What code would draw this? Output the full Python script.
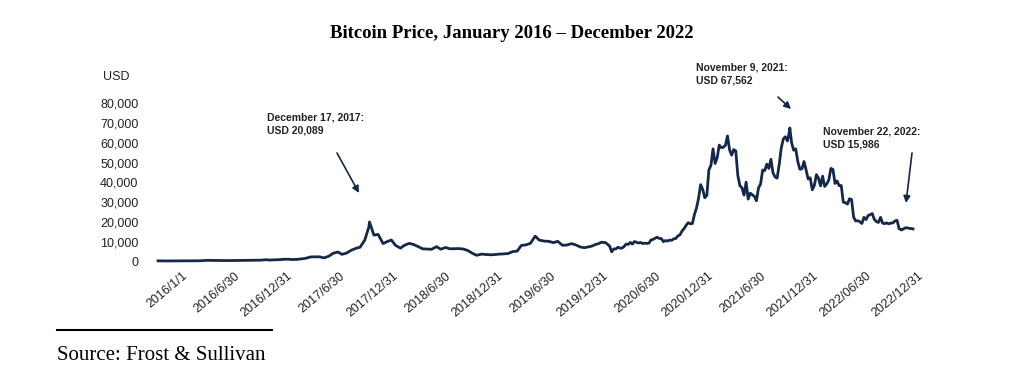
"""
Bitcoin price line chart, Jan 2016 - Dec 2022
"""
import numpy as np, matplotlib.pyplot as plt, pandas as pd

# 2016-2019: semi-monthly closes (1st and 15th of each month), USD
price_2016 = [430, 390, 375, 400, 435, 415, 417, 430, 450, 455, 535, 690,
              675, 665, 605, 570, 575, 607, 615, 638, 730, 712, 750, 780]
price_2017 = [1000, 820, 990, 1010, 1220, 1250, 1090, 1180, 1420, 1730, 2410, 2440,
              2480, 1930, 2730, 4200, 4900, 3700, 4400, 5700, 6750, 7300, 10900, 17600]
price_2018 = [13400, 13800, 9170, 10170, 10950, 8260, 6850, 8360, 9250, 8700, 7540, 6500,
              6390, 6270, 7600, 6300, 7190, 6520, 6600, 6630, 6370, 5600, 4200, 3240]
price_2019 = [3840, 3630, 3490, 3620, 3820, 3930, 4150, 5070, 5350, 8200, 8550, 9300,
              12900, 10880, 10400, 10300, 9630, 10300, 8320, 8370, 9140, 8490, 7420, 7070]

# 2020-2022: weekly closes (Mondays), USD
price_2020 = [7770, 8110, 8650, 8900, 9290, 9860, 9700, 9660,
              8760, 7900, 5000, 6450, 6440, 7300, 6850, 6880, 7700,
              8900, 8750, 9730, 8900, 10200, 9780, 9450, 9690, 9190,
              9350, 9240, 9390, 11000, 11230, 11880, 12300, 11750, 11650,
              10130, 10680, 10420, 10910, 10790, 11550, 11750, 13030,
              13550, 15480, 16720, 18400, 19700, 19170, 19270, 23800, 27080]
price_2021 = [32000, 38900, 36600, 32300, 33500, 46400, 48700, 57000,
              49600, 52400, 58900, 57600, 57800, 58800, 63500, 56500, 53800,
              56600, 56000, 43500, 38400, 37300, 33600, 40200, 31600, 34600,
              33800, 33000, 30800, 37300, 39200, 46300, 46000, 49300, 47100,
              51700, 44900, 42800, 42200, 49100, 57400, 62000, 63100,
              61000, 66000, 60100, 56300, 57000, 50600, 46700, 46900, 50600]
price_2022 = [46400, 41800, 42400, 36300, 38500, 44000, 42200, 38300, 43200,
              38000, 39300, 41300, 47100, 46600, 39500, 40800, 38400,
              38500, 30100, 29800, 29100, 31800, 31400, 22500, 20600, 20700,
              20200, 19300, 22400, 21300, 23300, 23800, 24300, 21400, 20300,
              19800, 22400, 19500, 19200, 19600, 19100, 19500, 19600, 20600,
              20900, 16600, 16200, 16500, 17100, 17100, 16800, 16700]

# annotated points (plus the last close)
event_dates = ['2017-12-17', '2021-11-09', '2022-11-22', '2022-12-31']
event_price = [20089, 67562, 15986, 16550]
event_text = ['December 17, 2017:\nUSD 20,089',
              'November 9, 2021:\nUSD 67,562',
              'November 22, 2022:\nUSD 15,986']

tick_labels = ['2016/1/1', '2016/6/30', '2016/12/31', '2017/6/30', '2017/12/31',
               '2018/6/30', '2018/12/31', '2019/6/30', '2019/12/31', '2020/6/30',
               '2020/12/31', '2021/6/30', '2021/12/31', '2022/06/30', '2022/12/31']

yticks = [0, 10000, 20000, 30000, 40000, 50000, 60000, 70000, 80000]

parts = [
    pd.DataFrame({'date': pd.date_range('2016-01-01', '2019-12-31', freq='SMS'),
                  'price': price_2016 + price_2017 + price_2018 + price_2019}),
    pd.DataFrame({'date': pd.date_range('2020-01-06', periods=52, freq='7D'),
                  'price': price_2020}),
    pd.DataFrame({'date': pd.date_range('2021-01-04', periods=52, freq='7D'),
                  'price': price_2021}),
    pd.DataFrame({'date': pd.date_range('2022-01-03', periods=52, freq='7D'),
                  'price': price_2022}),
    pd.DataFrame({'date': pd.to_datetime(event_dates), 'price': event_price}),
]
df = pd.concat(parts).sort_values('date')

W, H = 1009, 392
LINE = '#14284b'

def fx(x):
    return x / W

def fy(y):
    return 1 - y / H

fig = plt.figure(figsize=(W/100, H/100), dpi=100)

y0, y80 = 261.7, 103.3
ax = fig.add_axes([fx(158), fy(y0), fx(913) - fx(158), (y0 - y80) / H])
ax.plot(df['date'], df['price'], color=LINE, lw=2.0, clip_on=False,
        solid_joinstyle='round')
ax.set_xlim(pd.Timestamp('2016-01-01'), pd.Timestamp('2022-12-31'))
ax.set_ylim(0, 80000)
ax.set_yticks(yticks)
ax.set_yticklabels([f'{v:,}' for v in yticks], fontsize=9,
                   family='Liberation Sans', color='#222222')
ax.tick_params(axis='y', length=0, pad=14)
ax.set_xticks([])
for s in ax.spines.values():
    s.set_visible(False)
ax.patch.set_alpha(0)

# category-style date labels, evenly spaced like the original axis
lab = fig.add_axes([fx(182), fy(y0), fx(918) - fx(182), 0.001])
lab.set_xlim(0, len(tick_labels) - 1)
lab.set_xticks(range(len(tick_labels)))
lab.set_xticklabels(tick_labels, rotation=40, ha='right', va='top',
                    rotation_mode='anchor', fontsize=9,
                    family='Liberation Sans', color='#222222')
lab.tick_params(axis='x', length=0, pad=6)
lab.set_yticks([])
for s in lab.spines.values():
    s.set_visible(False)
lab.patch.set_alpha(0)

fig.text(fx(103), fy(77), 'USD', fontsize=9, family='Liberation Sans',
         va='center', ha='left', color='#222222')

fig.text(fx(512), fy(33), 'Bitcoin Price, January 2016 \u2013 December 2022',
         fontsize=13.5, fontweight='bold', family='Liberation Serif',
         ha='center', va='center')

# annotations
text_pos = [(267, 113), (696, 63), (823, 127)]
arrows = [((337, 153), (359, 193)), ((778, 97), (791, 109)),
          ((912, 153), (906, 203))]
for txt, (tx, ty) in zip(event_text, text_pos):
    fig.text(fx(tx), fy(ty), txt, fontsize=7.5, fontweight='bold',
             family='Liberation Sans', ha='left', va='top',
             linespacing=1.3, color='#222222')
for (x1, y1), (x2, y2) in arrows:
    ax.annotate('', xy=(fx(x2), fy(y2)), xytext=(fx(x1), fy(y1)),
                xycoords='figure fraction', textcoords='figure fraction',
                arrowprops=dict(arrowstyle='-|>', color=LINE, lw=1.2,
                                mutation_scale=10, shrinkA=0, shrinkB=0))

# source footnote
fig.add_artist(plt.Line2D([fx(57), fx(272)], [fy(330), fy(330)],
                          color='black', lw=1.5))
fig.text(fx(57), fy(356), 'Source: Frost & Sullivan', fontsize=15,
         family='Liberation Serif', ha='left', va='center')

fig.savefig('out.png', dpi=100)
